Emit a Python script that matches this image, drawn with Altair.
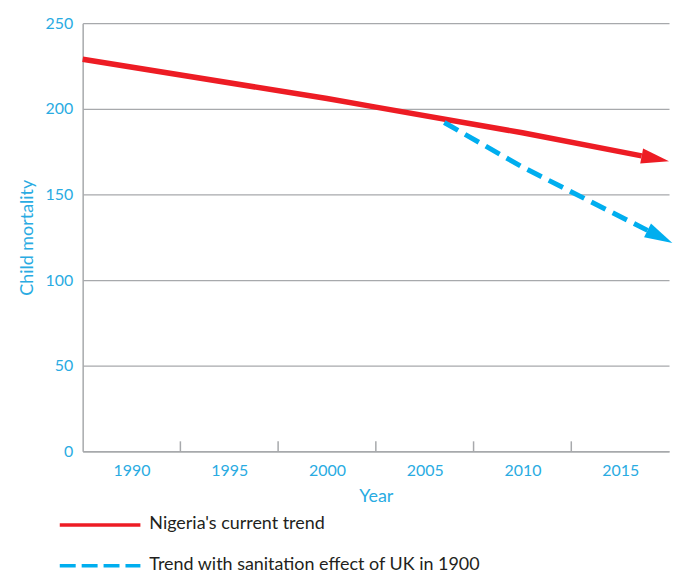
import math
import altair as alt
import pandas as pd

# ---- data ----
red_years = [1987.5, 2000, 2002.5, 2010, 2016.1]
red_values = [229, 206, 201, 186, 172.5]
blue_years = [2006, 2010, 2016.4]
blue_values = [192, 166, 129]
x_label_years = [1990, 1995, 2000, 2005, 2010, 2015]
x_tick_years = [1992.5, 1997.5, 2002.5, 2007.5, 2012.5]
y_ticks = [0, 50, 100, 150, 200, 250]
legend_labels = ["Nigeria's current trend", "Trend with sanitation effect of UK in 1900"]

RED = "#ed1c24"
BLUE = "#00aeef"
AXIS_TEXT = "#29abe2"
GRID = "#a7a9ac"
FONT = "Lato"

W, H = 589, 430
X_DOMAIN = [1987.5, 2017.5]
Y_DOMAIN = [0, 250]
px_year = W / (X_DOMAIN[1] - X_DOMAIN[0])
px_unit = H / (Y_DOMAIN[1] - Y_DOMAIN[0])


def arrow_angle(xs, ys):
    dx = (xs[-1] - xs[-2]) * px_year
    dy = (ys[-2] - ys[-1]) * px_unit
    return math.degrees(math.atan2(dy, dx))


red_df = pd.DataFrame({"year": red_years, "value": red_values})
blue_df = pd.DataFrame({"year": blue_years, "value": blue_values})
arrow_df = pd.DataFrame({
    "year": [red_years[-1], blue_years[-1]],
    "value": [red_values[-1], blue_values[-1]],
    "angle": [arrow_angle(red_years, red_values), arrow_angle(blue_years, blue_values)],
    "color": [RED, BLUE],
})
tick_df = pd.DataFrame({"year": x_tick_years})

x_scale = alt.Scale(domain=X_DOMAIN, nice=False, zero=False)
y_scale = alt.Scale(domain=Y_DOMAIN, nice=False)

x_enc = alt.X(
    "year:Q", scale=x_scale,
    axis=alt.Axis(
        values=x_label_years, format="d", ticks=False, grid=False,
        domainColor=GRID, domainWidth=1.5,
        labelColor=AXIS_TEXT, labelFont=FONT, labelFontSize=16, labelPadding=11,
        title="Year", titleColor=AXIS_TEXT, titleFont=FONT, titleFontSize=18,
        titleFontWeight="normal", titlePadding=9,
    ),
)
y_enc = alt.Y(
    "value:Q", scale=y_scale,
    axis=alt.Axis(
        values=y_ticks, ticks=False, grid=True, gridColor=GRID, gridWidth=1.2,
        domainColor=GRID, domainWidth=1.5,
        labelColor=AXIS_TEXT, labelFont=FONT, labelFontSize=16, labelPadding=10,
        title="Child mortality", titleColor=AXIS_TEXT, titleFont=FONT,
        titleFontSize=18, titleFontWeight="normal", titlePadding=9,
    ),
)

red_line = alt.Chart(red_df).mark_line(color=RED, strokeWidth=5.5).encode(x=x_enc, y=y_enc)
blue_line = alt.Chart(blue_df).mark_line(
    color=BLUE, strokeWidth=5, strokeDash=[16, 8]
).encode(x="year:Q", y="value:Q")

arrows = alt.Chart(arrow_df).mark_point(
    shape="M0,-0.55L2,0L0,0.55Z", filled=True, opacity=1, strokeWidth=0, size=784
).encode(
    x="year:Q", y="value:Q",
    color=alt.Color("color:N", scale=None),
    angle=alt.Angle("angle:Q", scale=None),
)

ticks = alt.Chart(tick_df).mark_rule(color=GRID, strokeWidth=1.5).encode(
    x="year:Q", y=alt.value(H), y2=alt.value(H - 10)
)

leg1_line = alt.Chart(pd.DataFrame({"label": [legend_labels[0]]})).mark_rule(
    color=RED, strokeWidth=3.5
).encode(x=alt.value(-23), x2=alt.value(58), y=alt.value(504))
leg1_text = alt.Chart(pd.DataFrame({"label": [legend_labels[0]]})).mark_text(
    align="left", baseline="middle", font=FONT, fontSize=18, color="#231f20"
).encode(x=alt.value(67), y=alt.value(503), text="label:N")
leg2_line = alt.Chart(pd.DataFrame({"label": [legend_labels[1]]})).mark_rule(
    color=BLUE, strokeWidth=3.5, strokeDash=[16, 6]
).encode(x=alt.value(-23), x2=alt.value(58), y=alt.value(545))
leg2_text = alt.Chart(pd.DataFrame({"label": [legend_labels[1]]})).mark_text(
    align="left", baseline="middle", font=FONT, fontSize=18, color="#231f20"
).encode(x=alt.value(67), y=alt.value(544), text="label:N")

chart = alt.layer(
    red_line, blue_line, arrows, ticks, leg1_line, leg1_text, leg2_line, leg2_text
).properties(
    width=W, height=H,
    padding={"left": 10, "top": 6, "right": 0, "bottom": 4},
).configure_view(stroke=None)

chart.save("out.html", embed_options={"renderer": "svg", "actions": False})
